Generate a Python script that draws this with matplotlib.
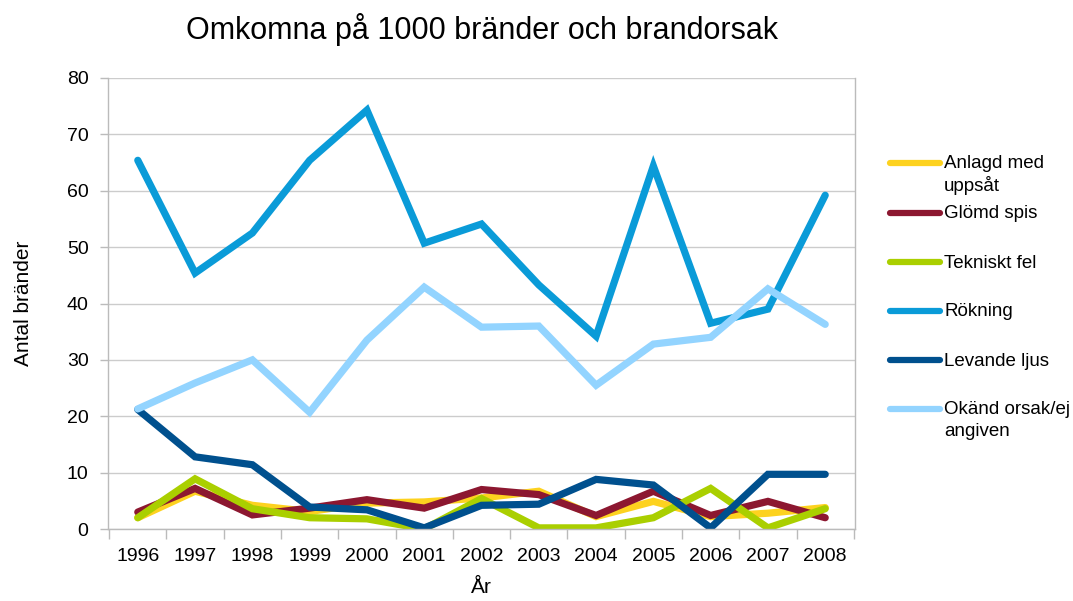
import matplotlib
matplotlib.use("Agg")
import matplotlib.pyplot as plt
from matplotlib.lines import Line2D
import numpy as np

years = [1996, 1997, 1998, 1999, 2000, 2001, 2002, 2003, 2004, 2005, 2006, 2007, 2008]
anlagd = [2.0, 6.7, 4.2, 3.1, 4.6, 4.8, 5.5, 6.7, 2.2, 4.9, 2.2, 2.8, 3.8]
glomd = [3.0, 7.2, 2.5, 3.7, 5.2, 3.7, 7.0, 6.1, 2.4, 6.7, 2.4, 4.9, 2.0]
tekniskt = [2.0, 8.9, 3.6, 2.0, 1.8, 0.0, 5.4, 0.2, 0.2, 2.0, 7.2, 0.2, 3.6]
rokning = [65.4, 45.4, 52.5, 65.4, 74.3, 50.7, 54.1, 43.3, 34.2, 64.4, 36.5, 39.0, 59.2]
levande = [21.2, 12.8, 11.4, 3.9, 3.4, 0.2, 4.2, 4.4, 8.8, 7.8, 0.2, 9.7, 9.7]
okand = [21.3, 25.9, 30.0, 20.7, 33.5, 42.9, 35.8, 36.0, 25.5, 32.8, 34.0, 42.6, 36.3]

series = [
    ("Anlagd med\nuppsåt", anlagd, "#FDD21F"),
    ("Glömd spis", glomd, "#8C1730"),
    ("Tekniskt fel", tekniskt, "#AACF00"),
    ("Rökning", rokning, "#0A9BD8"),
    ("Levande ljus", levande, "#00508E"),
    ("Okänd orsak/ej\nangiven", okand, "#93D4FF"),
]

plt.rcParams['font.family'] = ['Liberation Sans', 'DejaVu Sans']

W, H = 1073, 601
fig = plt.figure(figsize=(W/100, H/100), dpi=100)
ax = fig.add_axes([108/W, 72/H, (855-108)/W, (529-78)/H])

x = np.arange(len(years))
for name, vals, col in series:
    ax.plot(x, vals, color=col, lw=5.2, solid_capstyle='round', solid_joinstyle='miter')

ax.set_xlim(-0.52, len(years) - 0.48)
ax.set_ylim(0, 80)
ax.set_yticks(np.arange(0, 81, 10))
ax.set_xticks(x)
ax.set_xticklabels([str(y) for y in years], fontsize=14)
ax.set_xticks(np.arange(-0.5, len(years), 1.0), minor=True)
ax.tick_params(axis='x', which='major', length=0, pad=14)
ax.tick_params(axis='x', which='minor', length=7, color='#BBBBBB', width=1)
ax.tick_params(axis='y', length=6, color='#BBBBBB', width=1, labelsize=14, pad=8)
ax.grid(axis='y', color='#CCCCCC', lw=1)
ax.set_axisbelow(True)
for s in ['left', 'bottom', 'right']:
    ax.spines[s].set_color('#BBBBBB')
    ax.spines[s].set_linewidth(1)
ax.spines['top'].set_visible(False)

ax.set_xlabel("År", fontsize=15, labelpad=9)
ax.set_ylabel("Antal bränder", fontsize=15, labelpad=24)
ax.text(0.5, 1 - 30/H, "Omkomna på 1000 bränder och brandorsak", fontsize=22,
        ha='center', va='center', transform=fig.transFigure)
ax.texts[-1].set_x((108 + 855) / 2 / W)

# legend (manual)
ys = [163, 213, 262, 311, 360, 409]
for (name, vals, col), yp in zip(series, ys):
    yf = 1 - yp/H
    fig.add_artist(Line2D([890/W, 940/W], [yf, yf], color=col, lw=4.5,
                          solid_capstyle='round', transform=fig.transFigure))
    for i, line in enumerate(name.split("\n")):
        fig.text(944/W, 1 - (yp + 1 + i*22)/H, line, fontsize=13.5, va='center', ha='left',
                 transform=fig.transFigure)

fig.savefig("out.png", dpi=100)
